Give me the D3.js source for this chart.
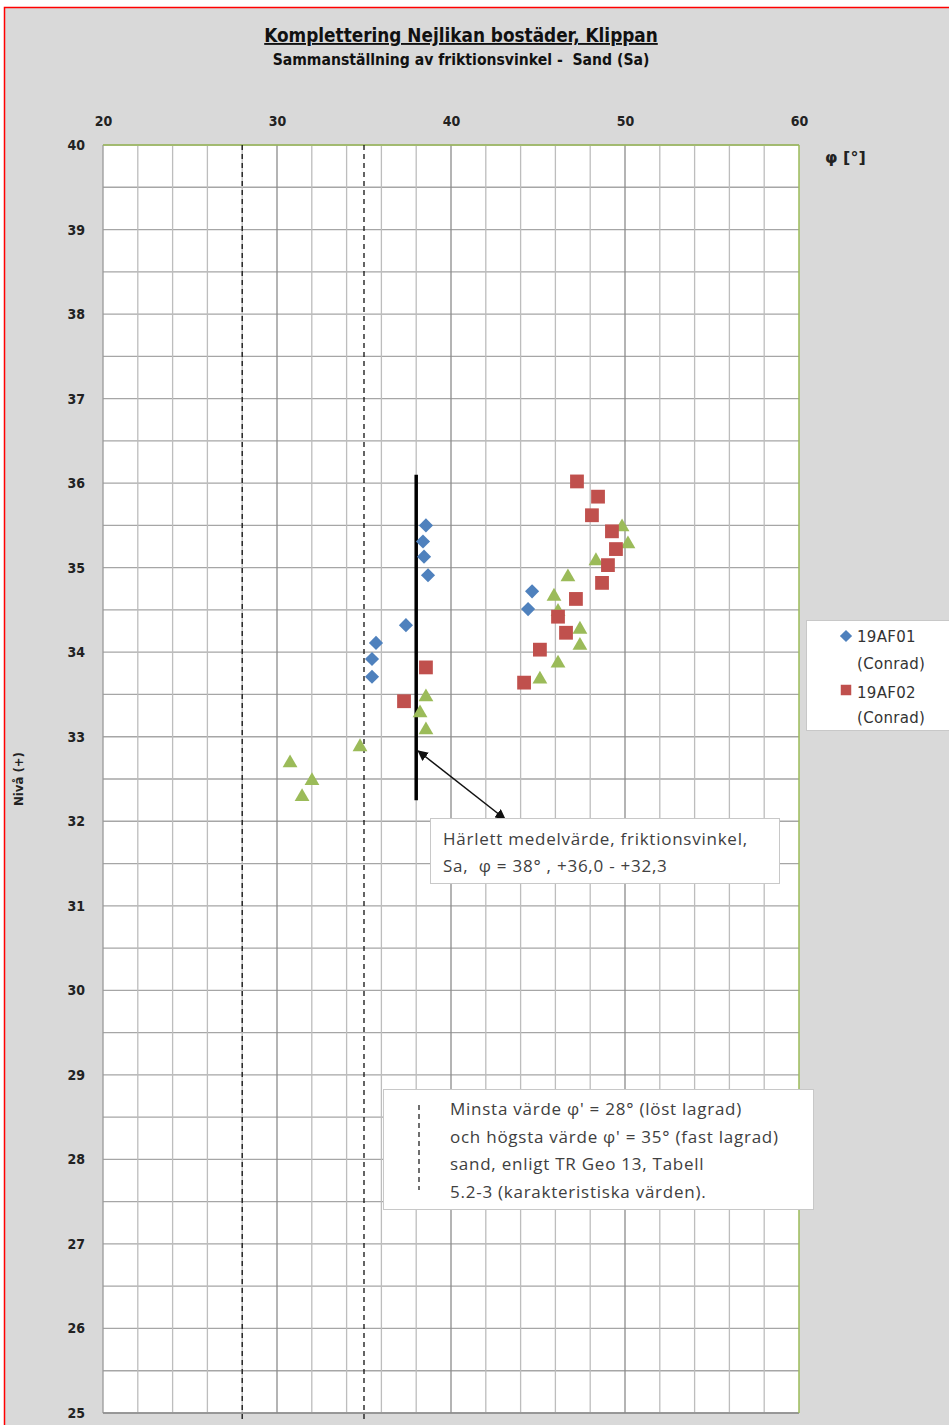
<!DOCTYPE html>
<html>
<head>
<meta charset="utf-8">
<title>Sammanställning av friktionsvinkel - Sand (Sa)</title>
<script src="https://d3js.org/d3.v7.min.js"></script>
<style>
  body { margin: 0; background: #fff; }
  svg text { white-space: pre; }
  .axis text { font-family: "DejaVu Sans Condensed", "Liberation Sans", sans-serif; font-size: 14px; font-weight: bold; fill: #222; }
  .title { font-family: "DejaVu Sans Condensed", sans-serif; font-weight: bold; fill: #111; text-anchor: middle; }
  .note { font-family: "Open Sans", "Noto Sans", sans-serif; font-size: 17px; letter-spacing: 0.75px; fill: #404040; }
  .legend text { font-family: "DejaVu Sans", sans-serif; font-size: 15px; letter-spacing: 0.3px; fill: #333; }
</style>
</head>
<body>
<div id="chart"></div>
<script>
// 19AF01 (Conrad) - blue diamonds
const af01Phi = [38.56, 38.39, 38.45, 38.68, 37.41, 35.69, 35.46, 35.46, 44.66, 44.43];
const af01Niva = [35.50, 35.31, 35.13, 34.91, 34.32, 34.11, 33.92, 33.71, 34.72, 34.51];

// 19AF02 (Conrad) - red squares
const af02Phi = [47.24, 48.45, 48.10, 49.25, 49.48, 49.02, 48.68, 47.18, 46.15, 46.61, 45.11, 44.20, 38.56, 37.30];
const af02Niva = [36.02, 35.84, 35.62, 35.43, 35.22, 35.03, 34.82, 34.63, 34.42, 34.23, 34.03, 33.64, 33.82, 33.42];

// third series (green triangles, not in the visible legend)
const s3Phi = [49.83, 50.17, 48.33, 46.72, 45.92, 46.15, 47.41, 47.41, 46.15, 45.11, 38.56, 38.22, 38.56, 34.77, 30.75, 32.01, 31.44];
const s3Niva = [35.48, 35.28, 35.08, 34.89, 34.66, 34.48, 34.27, 34.08, 33.87, 33.68, 33.47, 33.28, 33.08, 32.88, 32.69, 32.48, 32.29];

// reference lines
const limitPhi = [28, 35];          // min / max phi' (dashed)
const meanPhi = 38;                 // derived mean value
const meanRange = [36.1, 32.25];    // level range of the mean line

const xTicks = [20, 30, 40, 50, 60];
const yTicks = d3.range(25, 41, 1);

const W = 949, H = 1425;
const svg = d3.select("#chart").append("svg")
  .attr("width", W).attr("height", H);

// outer frame
svg.append("rect").attr("x", 4.5).attr("y", 7.5).attr("width", W + 5).attr("height", H + 5)
  .attr("fill", "#d9d9d9").attr("stroke", "#ff0000").attr("stroke-width", 1.5);

const x = d3.scaleLinear().domain([20, 60]).range([103, 799]);
const y = d3.scaleLinear().domain([25, 40]).range([1413, 145]);

// plot area
svg.append("rect")
  .attr("x", x(20)).attr("y", y(40))
  .attr("width", x(60) - x(20)).attr("height", y(25) - y(40))
  .attr("fill", "#fff");

// grid
const grid = svg.append("g");
grid.selectAll(".hg").data(d3.range(25, 40.01, 0.5)).enter().append("line")
  .attr("x1", x(20)).attr("x2", x(60))
  .attr("y1", d => y(d)).attr("y2", d => y(d))
  .attr("stroke", "#a6a6a6").attr("stroke-width", 1.3);
grid.selectAll(".vg").data(d3.range(22, 60, 2)).enter().append("line")
  .attr("y1", y(40)).attr("y2", y(25))
  .attr("x1", d => x(d)).attr("x2", d => x(d))
  .attr("stroke", d => d % 10 === 0 ? "#8c8c8c" : "#bdbdbd").attr("stroke-width", 1.3);

// plot borders
svg.append("line").attr("x1", x(20)).attr("x2", x(20)).attr("y1", y(40)).attr("y2", y(25))
  .attr("stroke", "#9a9a9a").attr("stroke-width", 1.3);
svg.append("line").attr("x1", x(20)).attr("x2", x(60)).attr("y1", y(25)).attr("y2", y(25))
  .attr("stroke", "#8c8c8c").attr("stroke-width", 1.5);
svg.append("line").attr("x1", x(20)).attr("x2", x(60)).attr("y1", y(40)).attr("y2", y(40))
  .attr("stroke", "#9bbb59").attr("stroke-width", 1.5);
svg.append("line").attr("x1", x(60)).attr("x2", x(60)).attr("y1", y(40)).attr("y2", y(25))
  .attr("stroke", "#9bbb59").attr("stroke-width", 1.5);

// dashed limit lines
svg.selectAll(".lim").data(limitPhi).enter().append("line")
  .attr("x1", d => x(d)).attr("x2", d => x(d))
  .attr("y1", y(40)).attr("y2", y(25) + 6)
  .attr("stroke", "#111").attr("stroke-width", 1.3).attr("stroke-dasharray", "5,4");

// mean line
svg.append("line")
  .attr("x1", x(meanPhi)).attr("x2", x(meanPhi))
  .attr("y1", y(meanRange[0])).attr("y2", y(meanRange[1]))
  .attr("stroke", "#000").attr("stroke-width", 3.5);

// axes
const xAxis = svg.append("g").attr("class", "axis")
  .attr("transform", "translate(0,126)")
  .call(d3.axisTop(x).tickValues(xTicks).tickSize(0).tickPadding(0));
xAxis.select(".domain").remove();

const yAxis = svg.append("g").attr("class", "axis")
  .attr("transform", "translate(85,0)")
  .call(d3.axisLeft(y).tickValues(yTicks).tickSize(0).tickPadding(0));
yAxis.select(".domain").remove();

svg.append("text").attr("x", 825).attr("y", 163)
  .attr("font-family", "DejaVu Sans, sans-serif").attr("font-size", 16).attr("font-weight", "bold")
  .attr("fill", "#222").text("φ [°]");

svg.append("text")
  .attr("transform", `translate(23,${(y(40) + y(25)) / 2}) rotate(-90)`)
  .attr("text-anchor", "middle")
  .attr("font-family", "DejaVu Sans Condensed, sans-serif")
  .attr("font-size", 13).attr("font-weight", "bold").attr("fill", "#222")
  .text("Nivå (+)");

// titles
svg.append("text").attr("class", "title").attr("x", 461).attr("y", 42)
  .style("font-size", "18.8px").attr("text-decoration", "underline")
  .text("Komplettering Nejlikan bostäder, Klippan");
svg.append("text").attr("class", "title").attr("x", 461).attr("y", 65)
  .style("font-size", "15.6px")
  .text("Sammanställning av friktionsvinkel -  Sand (Sa)");

// markers
const diamond = d3.symbol().type(d3.symbolSquare).size(100);
const square = d3.symbol().type(d3.symbolSquare).size(190);
const triangle = d3.symbol().type(d3.symbolTriangle).size(95);

svg.append("g").selectAll("path").data(d3.zip(s3Phi, s3Niva)).enter().append("path")
  .attr("d", triangle)
  .attr("transform", d => `translate(${x(d[0])},${y(d[1])})`)
  .attr("fill", "#9bbb59");

svg.append("g").selectAll("path").data(d3.zip(af02Phi, af02Niva)).enter().append("path")
  .attr("d", square)
  .attr("transform", d => `translate(${x(d[0])},${y(d[1])})`)
  .attr("fill", "#c0504d");

svg.append("g").selectAll("path").data(d3.zip(af01Phi, af01Niva)).enter().append("path")
  .attr("d", diamond)
  .attr("transform", d => `translate(${x(d[0])},${y(d[1])}) rotate(45)`)
  .attr("fill", "#4f81bd");

// arrow
const defs = svg.append("defs");
defs.append("marker").attr("id", "ah").attr("viewBox", "0 0 10 10")
  .attr("refX", 9).attr("refY", 5).attr("markerWidth", 7).attr("markerHeight", 7)
  .attr("orient", "auto-start-reverse")
  .append("path").attr("d", "M0,0 L10,5 L0,10 Z").attr("fill", "#111");
svg.append("line")
  .attr("x1", 505).attr("y1", 819).attr("x2", x(meanPhi) + 2).attr("y2", 751)
  .attr("stroke", "#111").attr("stroke-width", 1.5)
  .attr("marker-start", "url(#ah)").attr("marker-end", "url(#ah)");

// annotation box 1
svg.append("rect").attr("x", 430.5).attr("y", 818.5).attr("width", 349).attr("height", 65)
  .attr("fill", "#fff").attr("stroke", "#c8c8c8");
svg.append("text").attr("class", "note").attr("x", 443).attr("y", 845)
  .text("Härlett medelvärde, friktionsvinkel,");
svg.append("text").attr("class", "note").attr("x", 443).attr("y", 872)
  .text("Sa,  φ = 38° , +36,0 - +32,3");

// annotation box 2
svg.append("rect").attr("x", 383.5).attr("y", 1089.5).attr("width", 430).attr("height", 120)
  .attr("fill", "#fff").attr("stroke", "#c8c8c8");
svg.append("line").attr("x1", 419).attr("x2", 419).attr("y1", 1105).attr("y2", 1190)
  .attr("stroke", "#222").attr("stroke-width", 1.3).attr("stroke-dasharray", "5,4");
const note2 = [
  "Minsta värde φ' = 28° (löst lagrad)",
  "och högsta värde φ' = 35° (fast lagrad)",
  "sand, enligt TR Geo 13, Tabell",
  "5.2-3 (karakteristiska värden)."
];
svg.selectAll(".n2").data(note2).enter().append("text").attr("class", "note")
  .attr("x", 450).attr("y", (d, i) => 1115 + i * 27.5).text(d => d);

// legend
const lg = svg.append("g").attr("class", "legend");
lg.append("rect").attr("x", 806.5).attr("y", 620.5).attr("width", 150).attr("height", 110)
  .attr("fill", "#fff").attr("stroke", "#c8c8c8");
lg.append("path").attr("d", d3.symbol().type(d3.symbolSquare).size(75))
  .attr("transform", "translate(846,636) rotate(45)").attr("fill", "#4f81bd");
lg.append("text").attr("x", 857).attr("y", 642).text("19AF01");
lg.append("text").attr("x", 857).attr("y", 669).text("(Conrad)");
lg.append("path").attr("d", d3.symbol().type(d3.symbolSquare).size(110))
  .attr("transform", "translate(846,690)").attr("fill", "#c0504d");
lg.append("text").attr("x", 857).attr("y", 698).text("19AF02");
lg.append("text").attr("x", 857).attr("y", 723).text("(Conrad)");
</script>
</body>
</html>
